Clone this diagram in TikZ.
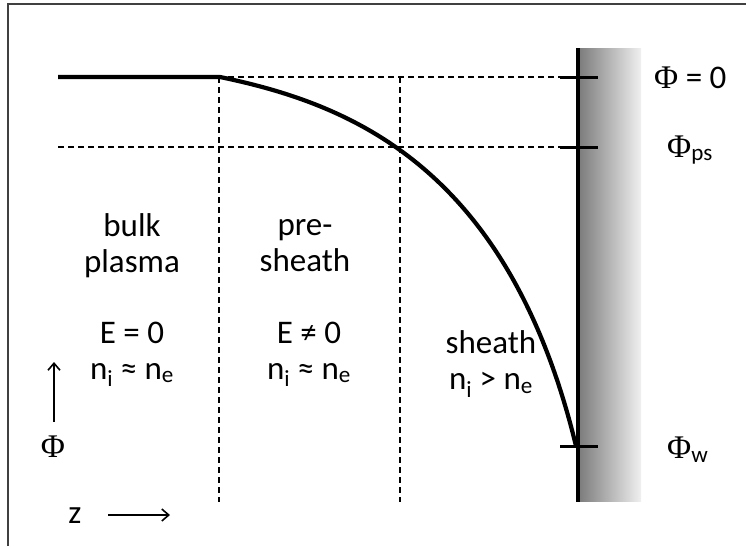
\documentclass[tikz,border=0pt]{standalone}
\usepackage{fontspec}
\setmainfont{Carlito}
\newfontfamily\phifont{Liberation Serif}
\usetikzlibrary{arrows.meta}
\newcommand{\Ph}{{\phifont Φ}}
\newcommand{\sub}[1]{\textsubscript{#1}}
\begin{document}
\begin{tikzpicture}[x=1pt,y=-1pt,
  guide/.style={dash pattern=on 6pt off 4pt, line width=1.8pt},
  tick/.style={line width=3pt},
  txt/.style={font=\fontsize{33}{36}\selectfont, align=center, inner sep=0pt},
  axis/.style={line width=1.6pt, -{Straight Barb[length=7pt, width=12pt, line width=1.6pt]}}]
\useasboundingbox (0,0) rectangle (746,546);
% frame
\draw[black!75, line width=1.3pt] (8,546) -- (8,4) -- (746,4);
% wall
\shade[left color=black!52, right color=black!6] (578,48) rectangle (641,501);
\draw[line width=4pt] (578,48) -- (578,502);
% reference levels
\coordinate (z0) at (58,77);
\coordinate (zk) at (220,77);
\coordinate (t0) at (560,77);
\coordinate (t0r) at (598,77);
\coordinate (ps0) at (58,147);
\coordinate (tps) at (560,147);
\coordinate (tpsr) at (598,147);
\coordinate (tw) at (560,446);
\coordinate (twr) at (598,446);
\coordinate (wend) at (576,446);
\draw[guide] (z0) -- (t0);
\draw[guide] (ps0) -- (tps);
\draw[tick] (t0) -- (t0r);
\draw[tick] (tps) -- (tpsr);
\draw[tick] (tw) -- (twr);
% region borders
\coordinate (b1t) at (219,77);
\coordinate (b1b) at (219,502);
\coordinate (b2t) at (400,77);
\coordinate (b2b) at (400,502);
\draw[guide] (b1t) -- (b1b);
\draw[guide] (b2t) -- (b2b);
% potential
\draw[line width=4.2pt] (z0) -- (zk) .. controls (350,104) and (508,166) .. (wend);
% labels
\node[txt] (bulk) at (132,246) {bulk\\plasma};
\node[txt] (bulkE) at (132,354) {E = 0\\n\sub{i} ≈ n\sub{e}};
\node[txt] (pre) at (305,246) {pre-\\sheath};
\node[txt] (preE) at (309,354) {E ≠ 0\\n\sub{i} ≈ n\sub{e}};
\node[txt] (sh) at (491,364) {sheath\\n\sub{i} > n\sub{e}};
\node[txt, anchor=west] (phi0) at (654,78) {\Ph\ = 0};
\node[txt, anchor=west] (phips) at (667,150) {\Ph\sub{ps}};
\node[txt, anchor=west] (phiw) at (667,450) {\Ph\sub{w}};
% axes
\node[txt] (phi) at (53,447) {\Ph};
\node[txt] (zz) at (75,516) {z};
\coordinate (pa0) at (54,422);
\coordinate (pa1) at (54,362);
\coordinate (za0) at (108,515);
\coordinate (za1) at (170,515);
\draw[axis] (pa0) -- (pa1);
\draw[axis] (za0) -- (za1);
\end{tikzpicture}
\end{document}
